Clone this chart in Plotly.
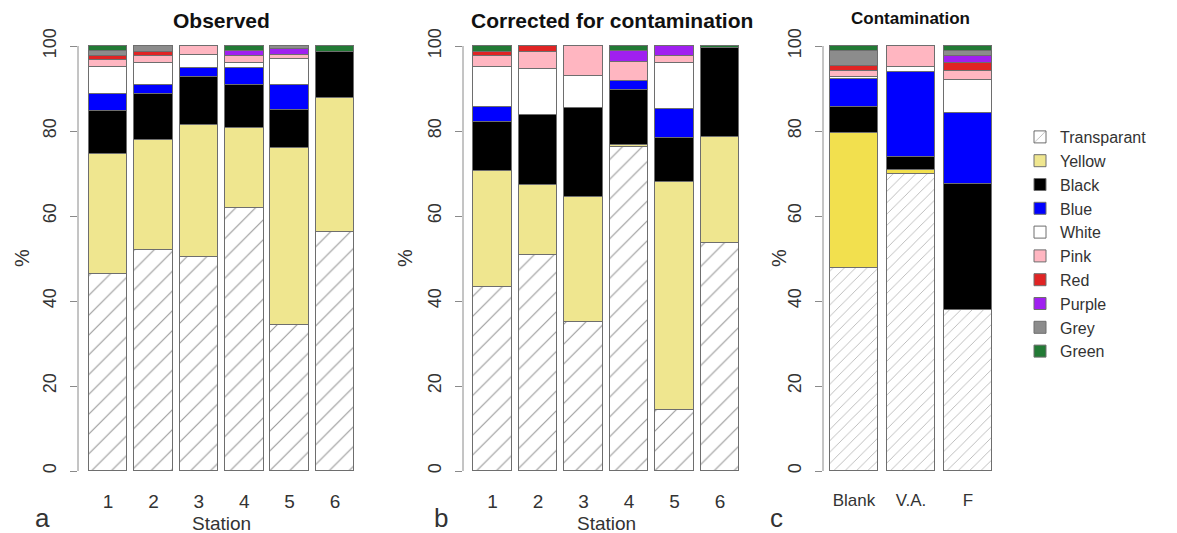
import plotly.graph_objects as go

# The page body has an 8px default margin; the figure is sized so that it
# fills the 1177x533 window exactly once that margin is taken into account.
OFF = 8
W, H = 1177 - OFF, 533 - OFF

# ---------------- data ----------------
stations = ["1", "2", "3", "4", "5", "6"]
contam_sources = ["Blank", "V.A.", "F"]
series_names = ["Transparant", "Yellow", "Black", "Blue", "White", "Pink",
                "Red", "Purple", "Grey", "Green"]

# Observed (panel a)
transparant_obs = [46.3, 52.0, 50.4, 61.8, 34.4, 56.3]
yellow_obs      = [28.4, 25.9, 31.0, 18.8, 41.5, 31.4]
black_obs       = [10.1, 10.8, 11.4, 10.2, 9.0, 11.0]
blue_obs        = [4.0, 2.1, 2.0, 4.0, 5.9, 0]
white_obs       = [6.3, 5.2, 3.1, 1.2, 6.1, 0]
pink_obs        = [1.6, 1.6, 2.1, 1.7, 0.9, 0]
red_obs         = [1.0, 1.1, 0, 0, 0, 0]
purple_obs      = [0, 0, 0, 1.1, 1.6, 0]
grey_obs        = [1.1, 1.3, 0, 0, 0.6, 0]
green_obs       = [1.2, 0, 0, 1.2, 0, 1.3]

# Corrected for contamination (panel b)
transparant_cor = [43.4, 50.8, 35.1, 76.3, 14.4, 53.6]
yellow_cor      = [27.3, 16.5, 29.4, 0.3, 53.7, 25.1]
black_cor       = [11.5, 16.5, 20.8, 13.1, 10.2, 20.8]
blue_cor        = [3.5, 0, 0, 2.0, 6.8, 0]
white_cor       = [9.4, 10.7, 7.6, 0, 10.8, 0]
pink_cor        = [2.5, 4.2, 7.1, 4.5, 1.7, 0]
red_cor         = [1.1, 1.3, 0, 0, 0, 0]
purple_cor      = [0, 0, 0, 2.6, 2.4, 0]
grey_cor        = [0, 0, 0, 0, 0, 0]
green_cor       = [1.3, 0, 0, 1.2, 0, 0.5]

# Contamination (panel c)
transparant_con = [47.8, 69.8, 37.9]
yellow_con      = [31.8, 1.0, 0]
black_con       = [6.0, 3.0, 29.6]
blue_con        = [6.6, 20.2, 16.7]
white_con       = [0.5, 1.1, 7.8]
pink_con        = [1.4, 4.9, 2.2]
red_con         = [1.2, 0, 1.7]
purple_con      = [0, 0, 1.7]
grey_con        = [3.5, 0, 1.2]
green_con       = [1.2, 0, 1.2]

y_ticks = [0, 20, 40, 60, 80, 100]

obs = [transparant_obs, yellow_obs, black_obs, blue_obs, white_obs, pink_obs,
       red_obs, purple_obs, grey_obs, green_obs]
cor = [transparant_cor, yellow_cor, black_cor, blue_cor, white_cor, pink_cor,
       red_cor, purple_cor, grey_cor, green_cor]
con = [transparant_con, yellow_con, black_con, blue_con, white_con, pink_con,
       red_con, purple_con, grey_con, green_con]

# ---------------- styles ----------------
colors = {
    "Transparant": "#ffffff", "Yellow": "#efe68f", "Black": "#000000",
    "Blue": "#0000ff", "White": "#ffffff", "Pink": "#ffb6c1",
    "Red": "#e02424", "Purple": "#a020f0", "Grey": "#8c8c8c", "Green": "#227a35",
}
yellow_c = "#f2e04e"
FONT = "Liberation Sans, Arial, sans-serif"
TXT = "#333333"
AX = "#8a8a8a"


def px(x):
    """screen x pixel -> paper fraction"""
    return (x - OFF) / W


def py(y):
    """screen y pixel -> paper fraction"""
    return 1 - (y - OFF) / H


fig = go.Figure()

panels = [
    ("x", "y", stations, obs, 0.85, 14, True),
    ("x2", "y2", stations, cor, 0.85, 14, False),
    ("x3", "y3", contam_sources, con, 0.84, 8, False),
]

for xa, ya, cats, data, bw, psize, show in panels:
    xpos = list(range(1, len(cats) + 1))
    for name, vals in zip(series_names, data):
        col = colors[name]
        if name == "Yellow" and xa == "x3":
            col = yellow_c
        mk = dict(color=col, line=dict(color="#6e6e6e", width=1))
        if name == "Transparant":
            mk["pattern"] = dict(shape="/", fgcolor="#9a9a9a", bgcolor="#ffffff",
                                 size=psize, solidity=0.08, fillmode="replace")
        fig.add_trace(go.Bar(
            x=xpos, y=[v if v else None for v in vals], width=bw,
            name=name, legendgroup=name, showlegend=show,
            marker=mk, xaxis=xa, yaxis=ya, hoverinfo="skip",
        ))

ydom = [py(488), py(29)]
yax = dict(range=[-4, 104], domain=ydom, tickvals=y_ticks, ticks="outside",
           ticklen=7, tickcolor=AX, tickwidth=1, showline=False, showgrid=False,
           zeroline=False, tickangle=-90, ticklabelstandoff=7,
           tickfont=dict(family=FONT, size=18, color=TXT))
xax = dict(showline=False, showgrid=False, zeroline=False, ticks="",
           tickfont=dict(family=FONT, size=19, color=TXT))

fig.update_layout(
    width=W, height=H, margin=dict(l=0, r=0, t=0, b=0),
    paper_bgcolor="white", plot_bgcolor="white",
    barmode="stack", bargap=0,
    font=dict(family=FONT, color=TXT),
    xaxis=dict(xax, domain=[px(78), px(365)], range=[0.339, 6.66], anchor="y",
               tickvals=[1, 2, 3, 4, 5, 6], ticktext=stations),
    xaxis2=dict(xax, domain=[px(463), px(749.6)], range=[0.352, 6.65], anchor="y2",
                tickvals=[1, 2, 3, 4, 5, 6], ticktext=stations),
    xaxis3=dict(xax, domain=[px(823), px(999)], range=[0.456, 3.544], anchor="y3",
                tickvals=[1, 2, 3], ticktext=contam_sources,
                tickfont=dict(family=FONT, size=17, color=TXT)),
    yaxis=dict(yax, anchor="x"),
    yaxis2=dict(yax, anchor="x2"),
    yaxis3=dict(yax, anchor="x3"),
    legend=dict(x=px(1020), y=py(120), xanchor="left", yanchor="top",
                traceorder="normal", font=dict(family=FONT, size=16, color=TXT),
                bgcolor="rgba(0,0,0,0)", tracegroupgap=0, itemwidth=30),
)

# axis lines spanning 0..100 only (R style)
for xa, ya in [("x", "y"), ("x2", "y2"), ("x3", "y3")]:
    fig.add_shape(type="line", xref=f"{xa} domain", yref=ya, x0=0, x1=0, y0=0, y1=100,
                  line=dict(color=AX, width=1))

ann = []
# titles
ann.append(dict(text="<b>Observed</b>", x=px(221), y=py(20), size=21))
ann.append(dict(text="<b>Corrected for contamination</b>", x=px(612), y=py(20), size=21))
ann.append(dict(text="<b>Contamination</b>", x=px(910), y=py(19), size=17))
# axis titles
ann.append(dict(text="Station", x=px(221), y=py(523), size=19))
ann.append(dict(text="Station", x=px(606), y=py(523), size=19))
for xx in [22, 405, 779]:
    ann.append(dict(text="%", x=px(xx), y=py(258), size=20, angle=-90))
# panel letters
ann.append(dict(text="a", x=px(42), y=py(518), size=26))
ann.append(dict(text="b", x=px(441), y=py(518), size=26))
ann.append(dict(text="c", x=px(776), y=py(518), size=26))

for a in ann:
    fig.add_annotation(text=a["text"], x=a["x"], y=a["y"], xref="paper", yref="paper",
                       showarrow=False, xanchor="center", yanchor="middle",
                       textangle=a.get("angle", 0),
                       font=dict(family=FONT, size=a["size"],
                                 color=TXT if "<b>" not in a["text"] else "#111111"))

fig.write_html("out.html")
